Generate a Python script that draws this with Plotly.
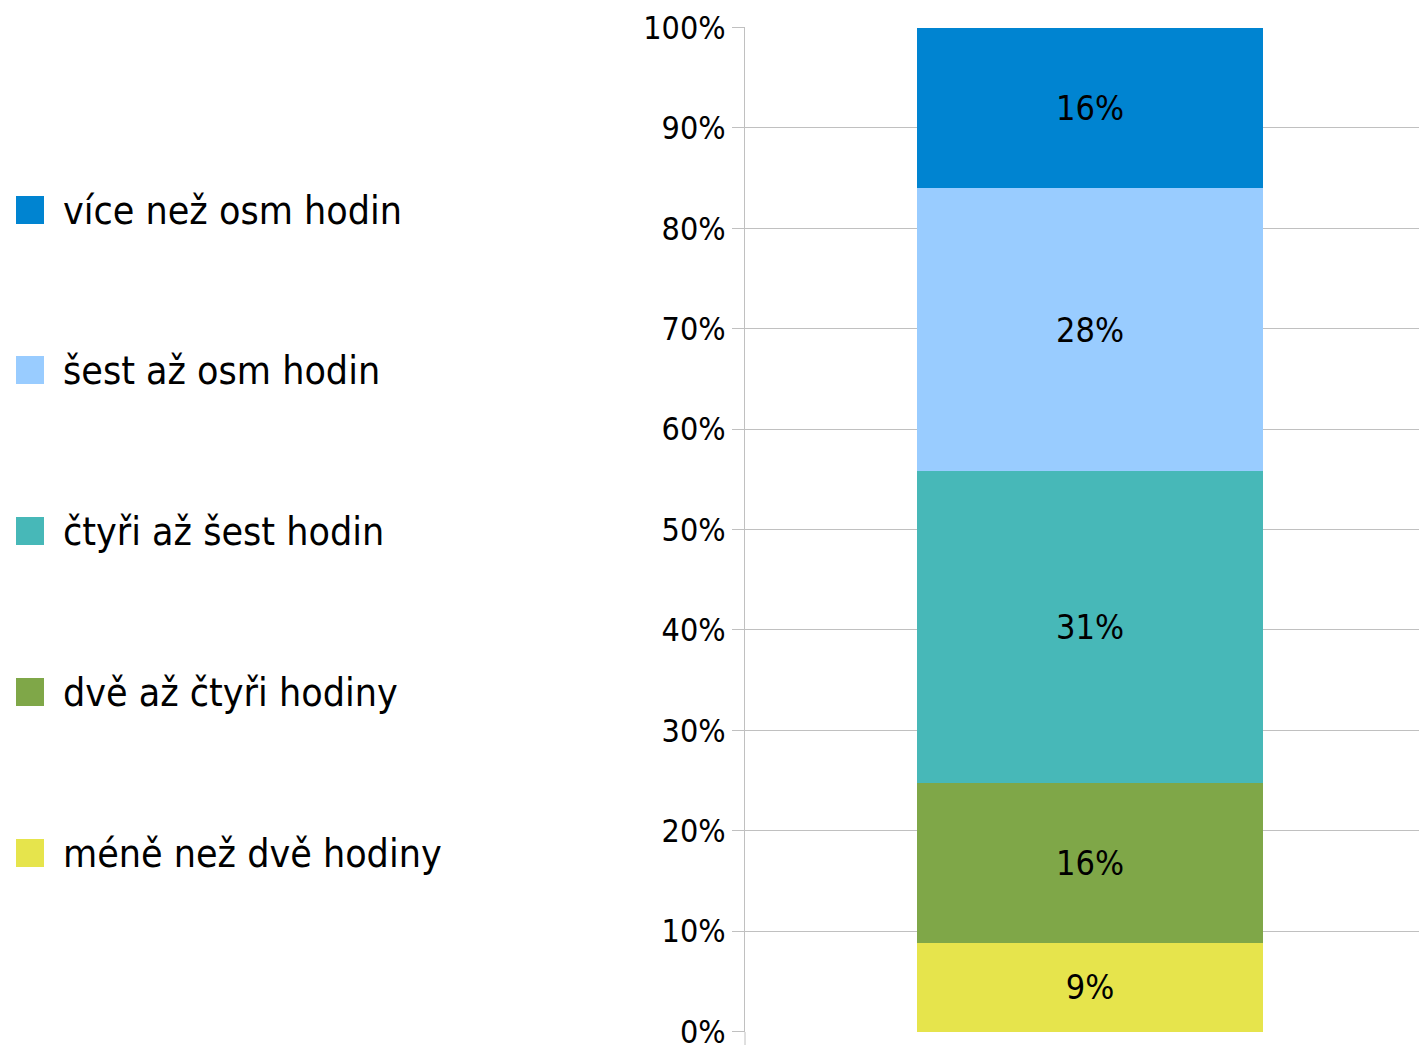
import plotly.graph_objects as go

# ---- data ----
categories = ["méně než dvě hodiny", "dvě až čtyři hodiny", "čtyři až šest hodin",
              "šest až osm hodin", "více než osm hodin"]
values = [8.8, 16.0, 31.0, 28.2, 16.0]
colors = ["#E6E44C", "#7FA748", "#47B8B8", "#99CCFF", "#0084D1"]
tick_vals = list(range(0, 101, 10))
tick_labels = [f"{v}%" for v in tick_vals]

W, H = 1419, 1045
L, R, T, B = 745, 0, 27, 13
PW, PH = W - L - R, H - T - B
FONT = "DejaVu Sans Condensed, Liberation Sans Narrow, sans-serif"

fig = go.Figure()
for cat, val, col in zip(categories, values, colors):
    fig.add_trace(go.Bar(
        x=[0], y=[val], name=cat, marker=dict(color=col, line=dict(width=0)),
        width=0.513, text=[val], texttemplate="%{text:.0f}%",
        textposition="inside", insidetextanchor="middle",
        textfont=dict(family=FONT, size=34, color="black"),
        showlegend=False, hoverinfo="name+y",
    ))

# manual legend (top item = top of stack)
legend_centers_px = [853, 692, 531, 370, 210]
shapes, annotations = [], []
for cat, col, cy in zip(categories, colors, legend_centers_px):
    x0 = (16 - L) / PW
    x1 = (44 - L) / PW
    y0 = (T + PH - (cy + 14)) / PH
    y1 = (T + PH - (cy - 14)) / PH
    shapes.append(dict(type="rect", xref="paper", yref="paper", x0=x0, x1=x1, y0=y0, y1=y1,
                       fillcolor=col, line=dict(width=0)))
    annotations.append(dict(xref="paper", yref="paper", x=(61 - L) / PW,
                            y=(T + PH - cy) / PH, xanchor="left", yanchor="middle",
                            align="left", text=cat, showarrow=False,
                            font=dict(family=FONT, size=39, color="black")))

# axis line continues below the plot area
shapes.append(dict(type="line", xref="paper", yref="paper", x0=0, x1=0, y0=0, y1=-B / PH,
                   line=dict(color="#c0c0c0", width=1)))

fig.update_layout(
    width=W, height=H, barmode="stack",
    margin=dict(l=L, r=R, t=T, b=B, pad=0, autoexpand=False),
    paper_bgcolor="white", plot_bgcolor="white",
    font=dict(family=FONT, color="black"),
    shapes=shapes, annotations=annotations,
    xaxis=dict(range=[-0.512, 0.488], showticklabels=False, showgrid=False,
               zeroline=False, showline=False, fixedrange=True, automargin=False),
    yaxis=dict(range=[-0.05, 100.05], tickvals=tick_vals, ticktext=tick_labels,
               showgrid=True, gridcolor="#c0c0c0", gridwidth=1,
               ticks="outside", ticklen=12, tickcolor="#c0c0c0",
               showline=True, linecolor="#c0c0c0", linewidth=1,
               ticklabeloverflow="allow", automargin=False,
               zeroline=False, tickfont=dict(family=FONT, size=32, color="black")),
)

fig.write_html("out.html", config={"displayModeBar": False},
               post_script="document.body.style.margin='0';")
